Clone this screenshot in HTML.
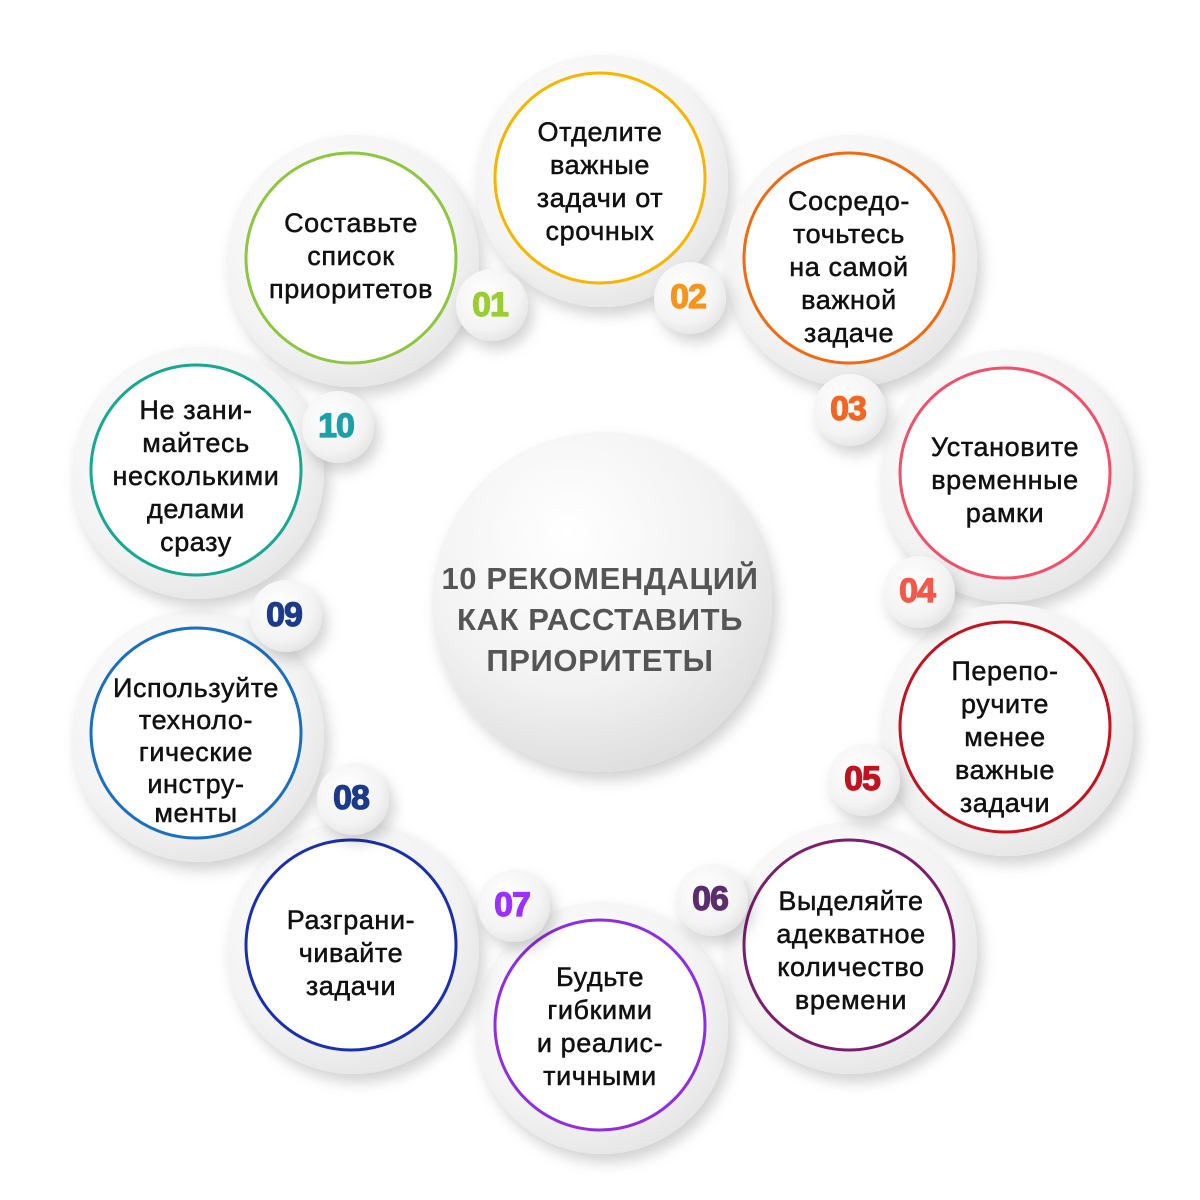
<!DOCTYPE html>
<html><head><meta charset="utf-8"><style>
html,body{margin:0;padding:0;background:#fff;}
svg{display:block;}
.t{font-family:"Liberation Sans",sans-serif;font-size:27px;fill:#111;stroke:#111;stroke-width:0.5;letter-spacing:0.6px;text-anchor:middle;}
.n{font-family:"Liberation Sans",sans-serif;font-size:34px;font-weight:bold;text-anchor:middle;letter-spacing:-1px;stroke-width:1.2px;}
.c{font-family:"Liberation Sans",sans-serif;font-size:31px;font-weight:bold;fill:#555;text-anchor:middle;letter-spacing:0.6px;}
</style></head><body>
<svg width="1200" height="1200" viewBox="0 0 1200 1200">
<defs>
<radialGradient id="g" cx="0.4" cy="0.35" r="0.7"><stop offset="0" stop-color="#ffffff"/><stop offset="0.7" stop-color="#f3f3f3"/><stop offset="1" stop-color="#e4e4e4"/></radialGradient>
<radialGradient id="gc" cx="0.4" cy="0.3" r="0.75"><stop offset="0" stop-color="#ffffff"/><stop offset="0.6" stop-color="#f2f2f2"/><stop offset="1" stop-color="#dcdcdc"/></radialGradient>
<filter id="sh" x="-30%" y="-30%" width="160%" height="160%"><feDropShadow dx="5" dy="8" stdDeviation="7" flood-color="#000" flood-opacity="0.18"/></filter>
</defs>
<circle cx="602" cy="602" r="170" fill="url(#gc)" filter="url(#sh)"/>
<text class="c" x="600" y="589">10 РЕКОМЕНДАЦИЙ</text>
<text class="c" x="600" y="630">КАК РАССТАВИТЬ</text>
<text class="c" x="600" y="671">ПРИОРИТЕТЫ</text>

<g>
<circle cx="353" cy="261" r="126" fill="url(#g)" filter="url(#sh)"/>
<circle cx="351" cy="258" r="105" fill="#fff" stroke="#8dc63f" stroke-width="3"/>
<text class="t" x="351" y="232">Составьте</text><text class="t" x="351" y="265">список</text><text class="t" x="351" y="298">приоритетов</text>
<circle cx="602" cy="181" r="126" fill="url(#g)" filter="url(#sh)"/>
<circle cx="600" cy="178" r="105" fill="#fff" stroke="#f7b500" stroke-width="3"/>
<text class="t" x="600" y="141">Отделите</text><text class="t" x="600" y="174">важные</text><text class="t" x="600" y="207">задачи от</text><text class="t" x="600" y="240">срочных</text>
<circle cx="851" cy="261" r="126" fill="url(#g)" filter="url(#sh)"/>
<circle cx="849" cy="258" r="105" fill="#fff" stroke="#f26a10" stroke-width="3"/>
<text class="t" x="849" y="210">Сосредо-</text><text class="t" x="849" y="243">точьтесь</text><text class="t" x="849" y="276">на самой</text><text class="t" x="849" y="309">важной</text><text class="t" x="849" y="342">задаче</text>
<circle cx="1007" cy="476" r="126" fill="url(#g)" filter="url(#sh)"/>
<circle cx="1005" cy="473" r="105" fill="#fff" stroke="#f2506a" stroke-width="3"/>
<text class="t" x="1005" y="456">Установите</text><text class="t" x="1005" y="489">временные</text><text class="t" x="1005" y="522">рамки</text>
<circle cx="1007" cy="730" r="126" fill="url(#g)" filter="url(#sh)"/>
<circle cx="1005" cy="727" r="105" fill="#fff" stroke="#c4121f" stroke-width="3"/>
<text class="t" x="1005" y="680">Перепо-</text><text class="t" x="1005" y="713">ручите</text><text class="t" x="1005" y="746">менее</text><text class="t" x="1005" y="779">важные</text><text class="t" x="1005" y="812">задачи</text>
<circle cx="851" cy="948" r="126" fill="url(#g)" filter="url(#sh)"/>
<circle cx="849" cy="945" r="105" fill="#fff" stroke="#7a1f6e" stroke-width="3"/>
<text class="t" x="851" y="910">Выделяйте</text><text class="t" x="851" y="943">адекватное</text><text class="t" x="851" y="976">количество</text><text class="t" x="851" y="1009">времени</text>
<circle cx="602" cy="1028" r="126" fill="url(#g)" filter="url(#sh)"/>
<circle cx="600" cy="1025" r="105" fill="#fff" stroke="#8e2de2" stroke-width="3"/>
<text class="t" x="600" y="986">Будьте</text><text class="t" x="600" y="1019">гибкими</text><text class="t" x="600" y="1052">и реалис-</text><text class="t" x="600" y="1085">тичными</text>
<circle cx="353" cy="948" r="126" fill="url(#g)" filter="url(#sh)"/>
<circle cx="351" cy="945" r="105" fill="#fff" stroke="#1a2fb0" stroke-width="3"/>
<text class="t" x="351" y="929">Разграни-</text><text class="t" x="351" y="962">чивайте</text><text class="t" x="351" y="995">задачи</text>
<circle cx="198" cy="736" r="126" fill="url(#g)" filter="url(#sh)"/>
<circle cx="196" cy="733" r="105" fill="#fff" stroke="#1a6fc0" stroke-width="3"/>
<text class="t" x="196" y="697">Используйте</text><text class="t" x="196" y="729">техноло-</text><text class="t" x="196" y="761">гические</text><text class="t" x="196" y="793">инстру-</text><text class="t" x="196" y="822">менты</text>
<circle cx="198" cy="473" r="126" fill="url(#g)" filter="url(#sh)"/>
<circle cx="196" cy="470" r="105" fill="#fff" stroke="#16a890" stroke-width="3"/>
<text class="t" x="196" y="419">Не зани-</text><text class="t" x="196" y="452">майтесь</text><text class="t" x="196" y="485">несколькими</text><text class="t" x="196" y="518">делами</text><text class="t" x="196" y="551">сразу</text>
</g>

<g>
<circle cx="492" cy="305" r="36" fill="url(#g)" filter="url(#sh)"/><text class="n" x="490" y="316" fill="#9acd32" stroke="#9acd32">01</text>
<circle cx="690" cy="298" r="36" fill="url(#g)" filter="url(#sh)"/><text class="n" x="688" y="308" fill="#f7941d" stroke="#f7941d">02</text>
<circle cx="850" cy="410" r="36" fill="url(#g)" filter="url(#sh)"/><text class="n" x="848" y="420" fill="#f26522" stroke="#f26522">03</text>
<circle cx="919" cy="592" r="36" fill="url(#g)" filter="url(#sh)"/><text class="n" x="917" y="602" fill="#f15a4a" stroke="#f15a4a">04</text>
<circle cx="864" cy="780" r="36" fill="url(#g)" filter="url(#sh)"/><text class="n" x="862" y="790" fill="#c1121f" stroke="#c1121f">05</text>
<circle cx="712" cy="900" r="36" fill="url(#g)" filter="url(#sh)"/><text class="n" x="710" y="910" fill="#5b2c6f" stroke="#5b2c6f">06</text>
<circle cx="514" cy="906" r="36" fill="url(#g)" filter="url(#sh)"/><text class="n" x="512" y="916" fill="#9b30ff" stroke="#9b30ff">07</text>
<circle cx="353" cy="799" r="36" fill="url(#g)" filter="url(#sh)"/><text class="n" x="351" y="809" fill="#1b3a8c" stroke="#1b3a8c">08</text>
<circle cx="286" cy="616" r="36" fill="url(#g)" filter="url(#sh)"/><text class="n" x="284" y="626" fill="#1b3a8c" stroke="#1b3a8c">09</text>
<circle cx="338" cy="427" r="36" fill="url(#g)" filter="url(#sh)"/><text class="n" x="336" y="437" fill="#1ba0a8" stroke="#1ba0a8">10</text>
</g>
</svg>
</body></html>
